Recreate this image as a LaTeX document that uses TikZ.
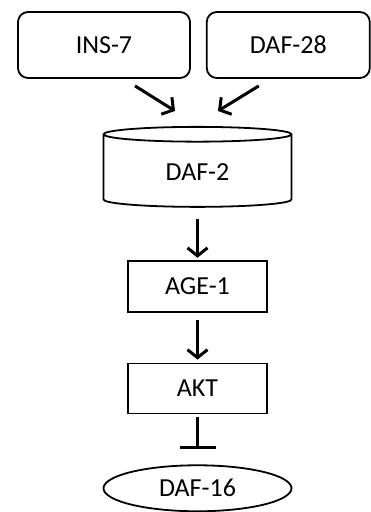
\documentclass[tikz,border=0pt]{standalone}
\usepackage{fontspec}
\setmainfont{Carlito}
\usetikzlibrary{shapes.geometric, arrows.meta, positioning}
\tikzstyle{ligand} = [rectangle, rounded corners=10pt, minimum height=66pt, text centered, draw=black, line width=1.8pt]
\tikzstyle{kinase} = [rectangle, minimum width=139pt, minimum height=51pt, text centered, draw=black, line width=1.8pt]
\tikzstyle{arrow} = [line width=3pt, -{Straight Barb[length=8pt, width=20pt]}]
\tikzstyle{inhibit} = [line width=3pt, -{Bar[width=36pt, line width=3.5pt]}]

\begin{document}
\begin{tikzpicture}[x=1pt, y=1pt, font=\fontsize{26}{30}\selectfont]
    \useasboundingbox (0,0) rectangle (370,512);

    \node (ins7) [ligand, minimum width=172pt] at (104,467) {INS-7};
    \node (daf28) [ligand, minimum width=163pt, right=15pt of ins7] {DAF-28};

    \node (daf2) [cylinder, shape border rotate=90, aspect=0.21, minimum width=188pt, minimum height=80pt, draw=black, line width=1.8pt] at (197.5,340) {DAF-2};
    \node (age1) [kinase, below=52pt of daf2] {AGE-1};
    \node (akt) [kinase, below=50pt of age1, minimum height=50pt] {AKT};
    \node (daf16) [ellipse, minimum width=188pt, minimum height=46pt, draw=black, line width=1.8pt, below=50pt of akt] {DAF-16};

    \draw [arrow] ([xshift=31pt, yshift=-7pt]ins7.south) -- ([xshift=-22.5pt, yshift=15pt]daf2.north);
    \draw [arrow] ([xshift=-29.5pt, yshift=-7pt]daf28.south) -- ([xshift=20.5pt, yshift=15pt]daf2.north);
    \draw [arrow, shorten <=11pt, shorten >=2pt] (daf2) -- (age1);
    \draw [arrow, shorten <=7pt, shorten >=3pt] (age1) -- (akt);
    \draw [inhibit, shorten <=3pt, shorten >=15pt] (akt) -- (daf16);
  \end{tikzpicture}
\end{document}
